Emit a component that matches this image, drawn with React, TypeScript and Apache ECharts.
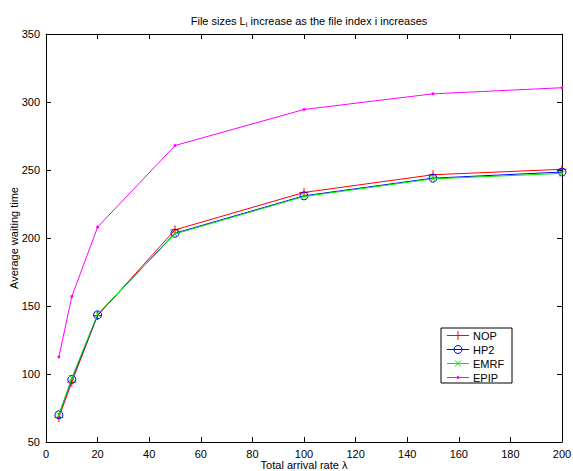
import React, { useEffect, useRef } from "react";
import * as echarts from "echarts";

const xValues = [5, 10, 20, 50, 100, 150, 200];
const nop = [68, 94, 143, 206, 233.5, 246.5, 250.5];
const hp2 = [70, 96, 143.5, 203.5, 231, 244, 248.5];
const emrf = [70, 97, 144, 203, 230.5, 243.5, 247.5];
const epip = [112.5, 157, 208, 268, 294.5, 306, 310.5];

const seriesNames = ["NOP", "HP2", "EMRF", "EPIP"];
const seriesColors = ["#ff0000", "#0000ff", "#00ee00", "#ff00ff"];

const FONT = "'Liberation Sans', Arial, Helvetica, sans-serif";

const pairs = (ys: number[]) => xValues.map((x, i) => [x, ys[i]]);

function legendGraphics() {
  const bx = 441, by = 328, bw = 71, bh = 55;
  const els: any[] = [
    { type: "rect", shape: { x: bx, y: by, width: bw, height: bh }, style: { fill: "#fff", stroke: "#000", lineWidth: 1 }, z: 100 },
  ];
  const rowY = [335.5, 349.5, 363.5, 377.5];
  seriesNames.forEach((name, i) => {
    const y = rowY[i];
    const c = seriesColors[i];
    const cx = 458;
    els.push({ type: "line", shape: { x1: 447, y1: y, x2: 469, y2: y }, style: { stroke: c, lineWidth: 1 }, z: 101 });
    if (i === 0) {
      els.push({ type: "line", shape: { x1: cx, y1: y - 4.5, x2: cx, y2: y + 4.5 }, style: { stroke: c, lineWidth: 1 }, z: 102 });
    } else if (i === 1) {
      els.push({ type: "circle", shape: { cx, cy: y, r: 4 }, style: { fill: "none", stroke: c, lineWidth: 1 }, z: 102 });
    } else if (i === 2) {
      els.push({ type: "line", shape: { x1: cx - 3, y1: y - 3, x2: cx + 3, y2: y + 3 }, style: { stroke: c, lineWidth: 1 }, z: 102 });
      els.push({ type: "line", shape: { x1: cx + 3, y1: y - 3, x2: cx - 3, y2: y + 3 }, style: { stroke: c, lineWidth: 1 }, z: 102 });
    } else {
      els.push({ type: "circle", shape: { cx, cy: y, r: 1.5 }, style: { fill: c }, z: 102 });
    }
    els.push({
      type: "text",
      x: 473,
      y,
      style: { text: name, fill: "#000", fontSize: 11, fontFamily: FONT, verticalAlign: "middle", align: "left" },
      z: 102,
    });
  });
  return els;
}

export default function App() {
  const ref = useRef<HTMLDivElement>(null);
  useEffect(() => {
    if (!ref.current) return;
    const chart = echarts.init(ref.current, undefined, { renderer: "svg" });
    const axisCommon = {
      axisLine: { show: true, onZero: false, lineStyle: { color: "#000", width: 1 } },
      axisTick: { show: true, inside: true, length: 5, lineStyle: { color: "#000" } },
      splitLine: { show: false },
    };
    const symbols = [
      "path://M5,0L5,10M0,5L10,5",
      "circle",
      "path://M0,0L10,10M10,0L0,10",
      "circle",
    ];
    const sizes = [9, 8, 6, 3];
    const datas = [nop, hp2, emrf, epip];
    const series = datas.map((d, i) => ({
      name: seriesNames[i],
      type: "line",
      data: pairs(d),
      symbol: symbols[i],
      symbolSize: sizes[i],
      showAllSymbol: true,
      lineStyle: { color: seriesColors[i], width: 1 },
      itemStyle:
        i === 3
          ? { color: seriesColors[i] }
          : { color: "transparent", borderColor: seriesColors[i], borderWidth: 1 },
      emphasis: { disabled: true },
      z: 2 + i,
    }));
    chart.setOption({
      animation: false,
      backgroundColor: "#fff",
      textStyle: { fontFamily: FONT },
      title: {
        text: "File sizes L{sub|i} increase as the file index i increases",
        left: 304,
        textAlign: "center",
        top: 9,
        textStyle: {
          fontSize: 11,
          fontWeight: "normal",
          color: "#000",
          fontFamily: FONT,
          rich: {
            sub: { fontSize: 8, verticalAlign: "bottom", padding: [6, 0, 0, 0], fontFamily: FONT },
          },
        },
      },
      grid: { left: 46, right: 11, top: 34, bottom: 29, containLabel: false, outerBoundsMode: "none" },
      graphic: legendGraphics(),
      xAxis: [
        {
          type: "value",
          min: 0,
          max: 200,
          interval: 20,
          position: "bottom",
          ...axisCommon,
          axisLabel: { color: "#000", fontSize: 11, margin: 6, fontFamily: FONT },
          name: "Total arrival rate λ",
          nameLocation: "middle",
          nameGap: 17,
          nameMoveOverlap: false,
          nameTextStyle: { color: "#000", fontSize: 11, lineHeight: 12, fontFamily: FONT },
        },
        {
          type: "value",
          min: 0,
          max: 200,
          interval: 20,
          position: "top",
          ...axisCommon,
          axisLabel: { show: false },
        },
      ],
      yAxis: [
        {
          type: "value",
          min: 50,
          max: 350,
          interval: 50,
          position: "left",
          ...axisCommon,
          axisLabel: { color: "#000", fontSize: 11, margin: 6, fontFamily: FONT },
          name: "Average waiting time",
          nameLocation: "middle",
          nameGap: 27,
          nameRotate: 90,
          nameMoveOverlap: false,
          nameTextStyle: { color: "#000", fontSize: 11, fontFamily: FONT },
        },
        {
          type: "value",
          min: 50,
          max: 350,
          interval: 50,
          position: "right",
          ...axisCommon,
          axisLabel: { show: false },
        },
      ],
      series,
    });
    return () => chart.dispose();
  }, []);
  return <div ref={ref} style={{ width: 573, height: 471, position: "absolute", left: 0, top: 0 }} />;
}
